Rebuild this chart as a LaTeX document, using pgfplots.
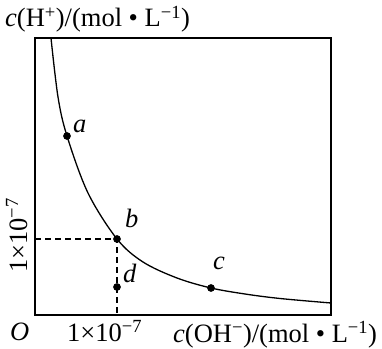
\documentclass[border=0pt]{standalone}
\usepackage{fontspec}
\setmainfont{Liberation Serif}
\usepackage{pgfplots}
\pgfplotsset{compat=1.18}
\begin{document}
\fontsize{26.5bp}{30bp}\selectfont
\begin{tikzpicture}
\useasboundingbox (0,0) rectangle (382bp,349bp);
\begin{axis}[at={(35bp,34bp)}, anchor=south west, scale only axis,
  width=296bp, height=277bp, xmin=0, xmax=296, ymin=0, ymax=277,
  axis line style={line width=1.2bp}, xtick=\empty, ytick=\empty, clip=false]
\addplot[smooth, tension=0.55, line width=1.3bp, black] coordinates {(16,277)(23,218)(32,179)(53,122)(82,76)(108,53)(142,37)(176,27)(210,21)(245,16.5)(296,12)};
\addplot[dash pattern=on 6bp off 4bp, line width=1.1bp, black] coordinates {(0,76)(82,76)(82,0)};
\addplot[only marks, mark=*, mark size=3.6bp, black] coordinates {(32,179)(82,76)(82,28)(176,27)};
\end{axis}
\node[anchor=base west, inner sep=0] at (5bp,322bp) {\textit{c}(H\textsuperscript{+})/(mol • L\textsuperscript{−1})};
\node[anchor=base west, inner sep=0] at (10bp,9bp) {\textit{O}};
\node[anchor=base west, inner sep=0] at (67bp,8bp) {1×10\textsuperscript{−7}};
\node[anchor=base west, inner sep=0] at (173bp,7bp) {\textit{c}(OH\textsuperscript{−})/(mol • L\textsuperscript{−1})};
\node[anchor=base west, inner sep=0, rotate=90] at (27bp,76bp) {1×10\textsuperscript{−7}};
\node[anchor=base west, inner sep=0] at (73bp,216bp) {\textit{a}};
\node[anchor=base west, inner sep=0] at (125bp,121bp) {\textit{b}};
\node[anchor=base west, inner sep=0] at (213bp,79bp) {\textit{c}};
\node[anchor=base west, inner sep=0] at (123bp,66bp) {\textit{d}};
\end{tikzpicture}
\end{document}
